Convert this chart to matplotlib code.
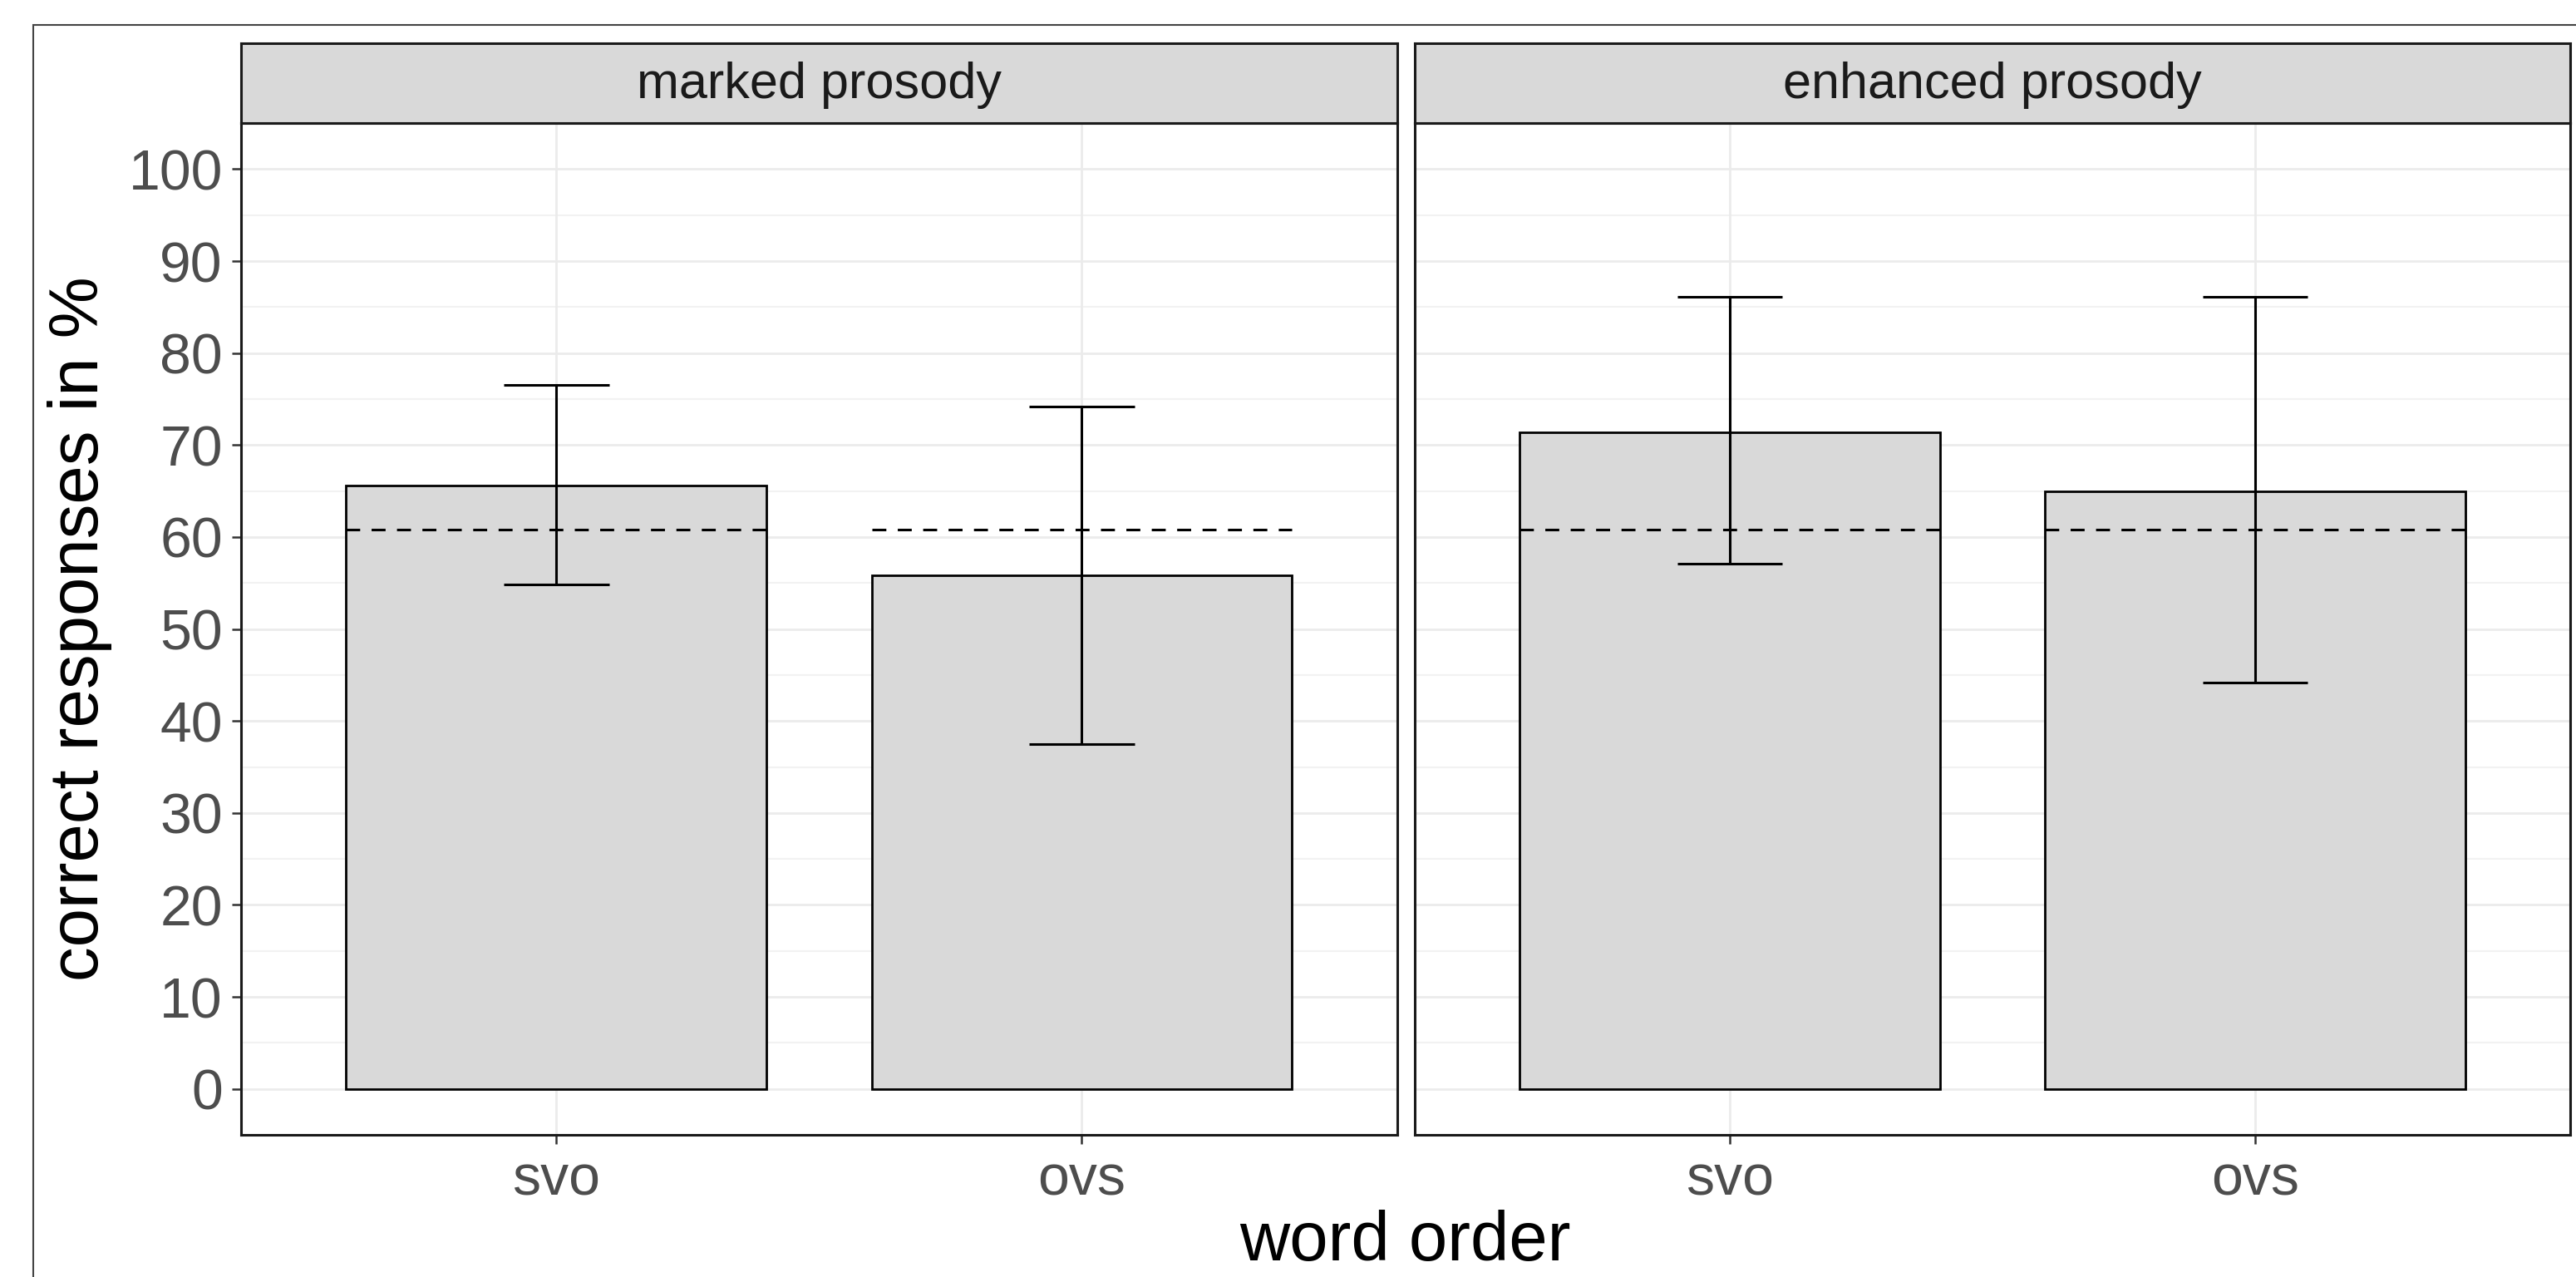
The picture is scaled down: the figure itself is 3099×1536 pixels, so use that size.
import matplotlib.pyplot as plt
import matplotlib.patches as mpatches
import numpy as np

plt.rcParams['font.family'] = ['Liberation Sans', 'DejaVu Sans']

# data
word_order = ["svo", "ovs"]
panels = ["marked prosody", "enhanced prosody"]
means = {
    "marked prosody": [65.6, 55.8],
    "enhanced prosody": [71.4, 65.0],
}
lower = {
    "marked prosody": [54.8, 37.5],
    "enhanced prosody": [57.1, 44.2],
}
upper = {
    "marked prosody": [76.5, 74.2],
    "enhanced prosody": [86.1, 86.1],
}
chance_level = 60.8
yticks = list(range(0, 101, 10))

fig = plt.figure(figsize=(30.99, 15.36), dpi=100)

# outer frame (partly cut off in the original)
fig.patches.append(mpatches.Rectangle(
    (0.0129, -0.1), 1.2, 1.0805, transform=fig.transFigure,
    fill=False, edgecolor="#444444", linewidth=1.5, zorder=0))

bottom, height = 0.1113, 0.7923
strip_h = 0.0625
lefts = [0.0936, 0.5492]
width = 0.4487

x = np.arange(1, len(word_order) + 1)
for k, (name, left) in enumerate(zip(panels, lefts)):
    ax = fig.add_axes([left, bottom, width, height])
    ax.set_xlim(0.4, 2.6)
    ax.set_ylim(-5, 105)

    # grid
    for v in np.arange(5, 105, 10):
        ax.axhline(v, color="#F2F2F2", lw=1.5, zorder=0)
    for v in yticks:
        ax.axhline(v, color="#EBEBEB", lw=2, zorder=0)
    for xi in x:
        ax.axvline(xi, color="#EBEBEB", lw=2, zorder=0)

    ax.bar(x, means[name], width=0.8, color="#D9D9D9",
           edgecolor="black", linewidth=2, zorder=2)
    # chance line across each bar
    ax.hlines([chance_level] * len(x), x - 0.4, x + 0.4, colors="black",
              linestyles=(0, (5.5, 4.5)), linewidth=2.2, zorder=3)
    # error bars
    ax.vlines(x, lower[name], upper[name], colors="black", lw=2.2, zorder=4)
    ax.hlines(lower[name], x - 0.1, x + 0.1, colors="black", lw=2.2, zorder=4)
    ax.hlines(upper[name], x - 0.1, x + 0.1, colors="black", lw=2.2, zorder=4)

    ax.set_xticks(x)
    ax.set_xticklabels(word_order, fontsize=49, color="#4D4D4D")
    ax.set_yticks(yticks)
    if k == 0:
        ax.set_yticklabels([str(v) for v in yticks], fontsize=49, color="#4D4D4D")
        ax.set_ylabel("correct responses in %", fontsize=60, labelpad=14)
    else:
        ax.tick_params(axis="y", left=False, labelleft=False)
    ax.tick_params(axis="both", length=8, width=1.8, color="#333333", pad=8)
    for sp in ax.spines.values():
        sp.set_linewidth(2.2)
        sp.set_color("#1A1A1A")

    # facet strip
    sax = fig.add_axes([left, bottom + height, width, strip_h])
    sax.set_facecolor("#D9D9D9")
    sax.set_xticks([])
    sax.set_yticks([])
    for sp in sax.spines.values():
        sp.set_linewidth(2.2)
        sp.set_color("#1A1A1A")
    sax.text(0.5, 0.47, name, ha="center", va="center", fontsize=44,
             color="#1A1A1A", transform=sax.transAxes)

fig.text(0.5456, 0.002, "word order", ha="center", va="bottom", fontsize=60)

fig.savefig("out.png", dpi=100)
